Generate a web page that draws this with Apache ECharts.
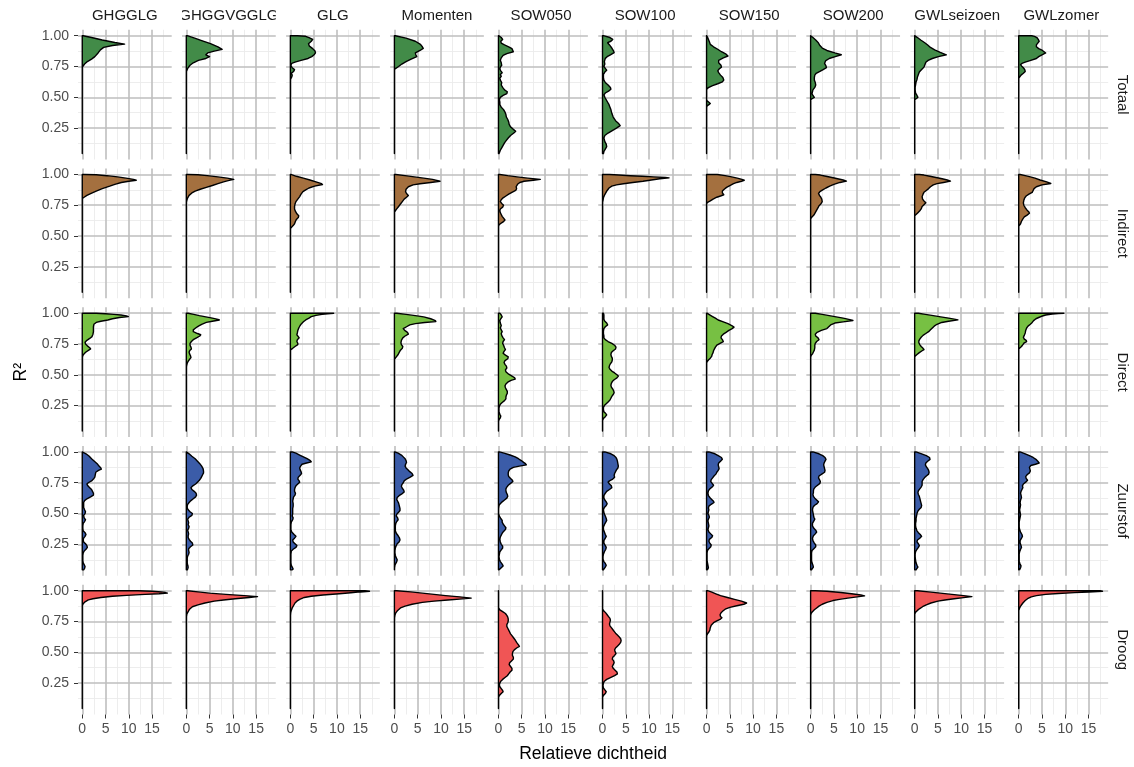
<!DOCTYPE html>
<html><head><meta charset="utf-8">
<script src="https://cdn.jsdelivr.net/npm/echarts@6/dist/echarts.min.js"></script>
<style>html,body{margin:0;padding:0;background:#fff}#c{width:1134px;height:767px}</style>
</head><body><div id="c"></div>
<script>
// ---------- data ----------
const columns = ['GHGGLG','GHGGVGGLG','GLG','Momenten','SOW050','SOW100','SOW150','SOW200','GWLseizoen','GWLzomer'];
const rowLabels = ['Totaal','Indirect','Direct','Zuurstof','Droog'];
const rowColors = ['#428b48','#a4703f','#77c043','#3b5ca8','#f05555'];
const xTicks = [0,5,10,15];
const xMinorTicks = [2.5,7.5,12.5,17.5];
const yTicks = [0.25,0.5,0.75,1.0];
const yMinorTicks = [0.125,0.375,0.625,0.875];
const r2Min = 0.043, r2Max = 1.0, densMax = 18.3;

// density curves, [R², relative density]
const totGHGGLG = [[1.0,0.2],[0.985,2.0],[0.965,4.3],[0.945,7.0],[0.932,9.1],[0.92,6.5],[0.905,4.6],[0.885,3.9],[0.86,3.4],[0.83,2.7],[0.81,2.0],[0.79,1.1],[0.77,0.5],[0.75,0.1],[0.74,0]];
const totGHGGVGGLG = [[1.0,0.2],[0.98,1.8],[0.96,3.3],[0.935,5.2],[0.91,6.8],[0.889,7.7],[0.875,6.0],[0.86,4.6],[0.845,4.2],[0.83,5.0],[0.815,4.2],[0.8,2.6],[0.78,1.5],[0.76,0.8],[0.735,0.3],[0.71,0]];
const totGLG = [[1.0,1.5],[0.995,3.3],[0.985,4.0],[0.97,4.8],[0.955,4.5],[0.935,3.9],[0.915,4.1],[0.895,4.8],[0.875,5.3],[0.86,5.4],[0.845,5.1],[0.83,4.6],[0.815,3.8],[0.8,2.3],[0.785,1.0],[0.775,0.3],[0.76,0.1],[0.74,0.4],[0.725,0.9],[0.71,0.7],[0.695,0.2],[0.68,0.4],[0.665,0.3],[0.645,0]];
const totMomenten = [[1.0,0.2],[0.98,2.5],[0.955,4.5],[0.93,5.6],[0.91,6.0],[0.897,6.2],[0.88,5.5],[0.86,4.5],[0.845,4.6],[0.83,4.8],[0.81,3.6],[0.79,2.5],[0.77,1.6],[0.75,0.9],[0.735,0.3],[0.725,0]];
const totSOW050 = [[1.0,0.1],[0.985,0.6],[0.97,0.9],[0.955,0.5],[0.94,0.6],[0.925,1.3],[0.91,2.2],[0.895,2.9],[0.87,3.2],[0.855,1.8],[0.84,1.0],[0.82,0.6],[0.8,0.4],[0.78,0.6],[0.76,0.7],[0.745,0.4],[0.73,0.3],[0.715,0.5],[0.7,0.8],[0.685,0.4],[0.67,0.6],[0.655,0.3],[0.64,0.4],[0.62,0.7],[0.6,0.6],[0.58,0.9],[0.56,1.3],[0.545,1.9],[0.53,1.8],[0.515,1.0],[0.5,0.4],[0.48,0.2],[0.46,0.3],[0.44,0.3],[0.42,0.6],[0.4,1.1],[0.38,1.4],[0.36,1.6],[0.34,1.7],[0.32,2.0],[0.3,2.2],[0.28,2.3],[0.26,2.6],[0.24,3.2],[0.225,3.7],[0.21,3.3],[0.19,2.6],[0.17,2.1],[0.15,1.7],[0.13,1.3],[0.11,1.0],[0.09,0.7],[0.07,0.4],[0.05,0.2],[0.043,0.1]];
const totSOW100 = [[1.0,0.2],[0.985,1.6],[0.97,2.2],[0.955,1.8],[0.943,1.1],[0.925,1.5],[0.9,2.0],[0.875,2.4],[0.862,2.5],[0.845,1.7],[0.83,1.0],[0.816,0.6],[0.79,0.4],[0.77,0.5],[0.75,0.3],[0.735,0.6],[0.72,0.9],[0.705,0.5],[0.685,0.2],[0.66,0.2],[0.64,0.3],[0.62,0.6],[0.6,1.2],[0.58,1.7],[0.565,1.8],[0.55,1.3],[0.535,0.6],[0.52,0.3],[0.5,0.5],[0.48,0.8],[0.46,1.1],[0.44,1.4],[0.42,1.6],[0.4,1.8],[0.37,2.0],[0.34,2.3],[0.31,2.8],[0.29,3.4],[0.27,3.8],[0.25,3.0],[0.23,2.1],[0.21,1.2],[0.19,0.5],[0.17,0.3],[0.14,0.5],[0.12,0.8],[0.1,0.9],[0.08,0.6],[0.06,0.3],[0.043,0.2]];
const totSOW150 = [[1.0,0],[0.98,0.3],[0.95,0.6],[0.93,0.8],[0.91,1.5],[0.89,2.4],[0.87,3.2],[0.85,4.2],[0.835,4.6],[0.82,3.6],[0.8,2.6],[0.78,2.6],[0.76,3.1],[0.745,3.2],[0.73,2.7],[0.715,2.4],[0.7,2.6],[0.68,3.0],[0.66,3.5],[0.64,3.7],[0.625,3.4],[0.61,2.4],[0.595,1.3],[0.58,0.5],[0.57,0.1],[0.56,0],[0.475,0],[0.46,0.5],[0.45,0.8],[0.44,0.5],[0.43,0.1],[0.42,0]];
const totSOW200 = [[1.0,0],[0.985,0.5],[0.965,1.1],[0.945,1.6],[0.92,2.0],[0.9,2.5],[0.88,3.5],[0.86,5.2],[0.845,6.6],[0.83,5.3],[0.815,4.0],[0.795,3.2],[0.775,3.0],[0.755,3.3],[0.74,3.4],[0.725,2.7],[0.71,2.0],[0.695,1.2],[0.68,0.9],[0.66,0.8],[0.64,0.8],[0.62,1.0],[0.6,1.1],[0.58,0.9],[0.56,0.5],[0.545,0.4],[0.53,0.3],[0.515,0.5],[0.5,0.8],[0.49,0.4],[0.48,0]];
const totGWLseizoen = [[1.0,0],[0.985,0.6],[0.965,1.3],[0.945,2.1],[0.925,2.8],[0.905,3.4],[0.885,4.3],[0.865,5.5],[0.845,6.8],[0.83,5.1],[0.815,3.8],[0.8,2.9],[0.785,2.4],[0.765,2.2],[0.745,2.0],[0.725,1.5],[0.705,1.0],[0.685,0.8],[0.665,0.6],[0.645,0.5],[0.625,0.3],[0.6,0.2],[0.58,0.1],[0.56,0.1],[0.535,0.2],[0.515,0.5],[0.5,0.7],[0.49,0.4],[0.48,0]];
const totGWLzomer = [[1.0,2.8],[0.995,3.4],[0.985,3.9],[0.97,4.2],[0.955,4.4],[0.94,4.1],[0.925,3.8],[0.91,3.8],[0.895,4.3],[0.88,5.1],[0.86,5.8],[0.845,5.0],[0.83,4.3],[0.815,3.8],[0.8,2.6],[0.785,1.4],[0.775,0.7],[0.765,0.4],[0.755,0.6],[0.74,1.0],[0.725,1.3],[0.71,1.4],[0.695,1.0],[0.68,0.5],[0.665,0.2],[0.655,0]];

const indGHGGLG = [[1.0,0.5],[0.997,3.0],[0.99,5.3],[0.98,7.6],[0.97,9.4],[0.96,11.0],[0.953,11.6],[0.945,10.0],[0.935,8.4],[0.92,7.0],[0.905,5.9],[0.885,4.3],[0.865,3.0],[0.845,1.8],[0.83,1.0],[0.815,0.4],[0.805,0]];
const indGHGGVGGLG = [[1.0,0.4],[0.997,2.5],[0.99,4.5],[0.98,6.8],[0.97,8.8],[0.96,10.2],[0.95,9.0],[0.94,8.0],[0.925,6.8],[0.91,5.6],[0.895,4.3],[0.88,3.0],[0.865,1.9],[0.85,1.2],[0.83,0.6],[0.81,0.3],[0.79,0.1],[0.775,0]];
const indGLG = [[1.0,0.1],[0.985,1.3],[0.97,2.8],[0.955,4.2],[0.94,5.5],[0.925,6.7],[0.918,6.9],[0.905,5.2],[0.89,4.0],[0.875,3.3],[0.86,2.7],[0.84,2.3],[0.82,2.0],[0.8,1.6],[0.78,1.2],[0.76,1.0],[0.74,0.9],[0.72,0.9],[0.7,1.1],[0.68,1.4],[0.665,1.8],[0.65,1.7],[0.635,1.3],[0.62,1.1],[0.6,0.9],[0.585,0.6],[0.57,0.2],[0.56,0]];
const indMomenten = [[1.0,0.3],[0.99,2.3],[0.98,4.3],[0.97,6.3],[0.96,8.2],[0.945,9.8],[0.935,7.8],[0.925,5.5],[0.915,4.0],[0.9,3.0],[0.88,2.5],[0.86,2.4],[0.845,2.6],[0.83,3.0],[0.815,2.6],[0.8,2.1],[0.78,1.7],[0.76,1.3],[0.74,0.9],[0.72,0.5],[0.705,0.2],[0.695,0]];
const indSOW050 = [[1.0,0.3],[0.99,2.0],[0.98,4.0],[0.97,6.3],[0.96,9.0],[0.953,7.5],[0.945,5.5],[0.935,4.6],[0.92,4.1],[0.9,3.8],[0.885,3.9],[0.87,3.7],[0.855,2.9],[0.84,2.2],[0.825,1.6],[0.81,1.0],[0.795,0.6],[0.78,0.4],[0.765,0.7],[0.75,1.1],[0.735,0.9],[0.72,0.4],[0.705,0.3],[0.69,0.4],[0.675,0.6],[0.66,0.8],[0.645,1.1],[0.63,1.4],[0.615,1.0],[0.6,0.4],[0.59,0.1],[0.58,0]];
const indSOW100 = [[1.0,1.5],[0.995,3.5],[0.99,6.0],[0.985,8.5],[0.98,11.0],[0.975,13.5],[0.972,14.3],[0.965,12.3],[0.955,10.5],[0.945,8.7],[0.935,6.5],[0.925,4.5],[0.915,3.0],[0.905,2.0],[0.89,1.4],[0.87,1.0],[0.85,0.7],[0.83,0.4],[0.81,0.2],[0.79,0.1],[0.775,0]];
const indSOW150 = [[1.0,2.3],[0.99,4.0],[0.98,5.4],[0.97,6.6],[0.96,7.6],[0.953,8.1],[0.945,7.5],[0.935,6.5],[0.925,5.8],[0.91,5.0],[0.895,4.3],[0.88,3.8],[0.865,3.4],[0.85,3.4],[0.835,3.7],[0.825,3.0],[0.815,2.2],[0.8,1.4],[0.785,0.8],[0.775,0.3],[0.765,0]];
const indSOW200 = [[1.0,1.0],[0.995,2.1],[0.985,3.3],[0.975,4.6],[0.965,5.8],[0.955,7.0],[0.946,7.7],[0.935,6.3],[0.92,5.0],[0.905,4.1],[0.89,3.3],[0.875,2.6],[0.86,2.0],[0.845,1.7],[0.83,1.9],[0.815,2.2],[0.8,2.4],[0.78,2.5],[0.76,2.2],[0.745,1.8],[0.73,1.6],[0.71,1.3],[0.69,1.0],[0.67,0.7],[0.655,0.3],[0.64,0]];
const indGWLseizoen = [[1.0,1.0],[0.995,2.0],[0.985,3.3],[0.975,4.6],[0.965,5.9],[0.955,7.0],[0.946,7.7],[0.935,6.2],[0.925,4.8],[0.915,4.0],[0.9,3.4],[0.885,3.0],[0.87,2.5],[0.855,2.0],[0.84,1.8],[0.82,1.6],[0.8,1.7],[0.785,2.0],[0.77,2.4],[0.755,2.0],[0.74,1.6],[0.72,1.4],[0.705,1.1],[0.69,0.7],[0.675,0.3],[0.665,0]];
const indGWLzomer = [[1.0,0.3],[0.99,1.4],[0.98,2.5],[0.97,3.5],[0.955,4.6],[0.94,6.0],[0.927,6.9],[0.915,5.0],[0.9,3.8],[0.885,3.3],[0.87,3.1],[0.855,2.9],[0.84,2.2],[0.825,1.6],[0.81,1.3],[0.79,1.1],[0.77,1.0],[0.75,1.1],[0.73,1.4],[0.71,1.8],[0.695,2.2],[0.685,2.3],[0.67,1.8],[0.655,1.2],[0.64,0.9],[0.62,0.6],[0.6,0.4],[0.59,0.2],[0.58,0]];

const dirGHGGLG = [[1.0,3.0],[0.995,5.0],[0.99,6.8],[0.985,8.3],[0.978,9.5],[0.972,9.9],[0.965,8.0],[0.955,6.5],[0.945,5.5],[0.935,4.0],[0.925,3.0],[0.91,2.5],[0.89,2.4],[0.87,2.4],[0.85,2.4],[0.83,2.3],[0.81,2.1],[0.795,1.6],[0.78,1.0],[0.765,0.6],[0.75,0.7],[0.735,1.1],[0.72,1.6],[0.71,1.8],[0.7,1.4],[0.685,0.8],[0.67,0.4],[0.655,0.1],[0.645,0]];
const dirGHGGVGGLG = [[1.0,0.4],[0.99,1.6],[0.98,2.8],[0.97,4.2],[0.96,5.6],[0.95,6.8],[0.945,7.1],[0.935,5.6],[0.925,4.3],[0.91,3.3],[0.895,2.6],[0.88,2.0],[0.865,1.5],[0.85,1.5],[0.835,2.4],[0.825,3.1],[0.815,2.9],[0.8,2.2],[0.785,1.5],[0.77,1.1],[0.755,0.8],[0.74,0.8],[0.725,1.0],[0.71,1.1],[0.7,0.8],[0.685,0.6],[0.67,0.7],[0.655,0.9],[0.64,1.0],[0.625,0.7],[0.61,0.4],[0.595,0.2],[0.575,0.05],[0.565,0]];
const dirGLG = [[1.0,9.3],[0.996,8.0],[0.99,6.8],[0.982,5.5],[0.972,4.5],[0.96,4.0],[0.945,3.3],[0.93,2.8],[0.915,2.4],[0.9,2.1],[0.88,1.8],[0.86,1.6],[0.84,1.5],[0.825,1.4],[0.81,1.7],[0.8,1.9],[0.785,1.5],[0.77,1.4],[0.755,1.6],[0.745,1.6],[0.73,1.0],[0.715,0.5],[0.705,0.1],[0.7,0]];
const dirMomenten = [[1.0,0.5],[0.99,2.5],[0.98,4.5],[0.97,6.3],[0.955,7.8],[0.94,8.8],[0.932,8.9],[0.925,6.5],[0.915,4.5],[0.905,3.3],[0.89,2.6],[0.875,1.9],[0.86,2.2],[0.845,2.8],[0.83,3.0],[0.815,2.3],[0.8,1.8],[0.78,1.5],[0.76,1.4],[0.745,1.5],[0.73,1.8],[0.715,1.7],[0.7,1.3],[0.68,1.0],[0.665,0.8],[0.65,0.5],[0.635,0.2],[0.625,0]];
const dirSOW050 = [[1.0,0.3],[0.985,0.6],[0.97,0.8],[0.955,0.5],[0.94,0.3],[0.92,0.4],[0.9,0.6],[0.88,0.4],[0.865,0.6],[0.85,0.8],[0.835,0.6],[0.82,0.7],[0.8,1.0],[0.785,1.3],[0.77,1.0],[0.755,0.9],[0.74,1.1],[0.72,1.3],[0.705,1.5],[0.69,1.2],[0.675,1.0],[0.66,1.5],[0.645,2.1],[0.63,2.0],[0.615,1.4],[0.6,1.2],[0.585,1.4],[0.57,1.7],[0.555,1.8],[0.54,1.5],[0.525,1.6],[0.505,2.2],[0.49,2.9],[0.475,3.5],[0.465,3.6],[0.455,2.7],[0.44,2.0],[0.425,1.6],[0.41,1.4],[0.395,1.5],[0.38,1.7],[0.365,1.9],[0.35,1.9],[0.335,1.7],[0.32,1.6],[0.305,1.6],[0.29,1.3],[0.275,0.8],[0.26,0.4],[0.245,0.2],[0.23,0.1],[0.2,0.1],[0.18,0.3],[0.165,0.5],[0.15,0.4],[0.135,0.1],[0.12,0]];
const dirSOW100 = [[1.0,0.2],[0.985,0.3],[0.97,0.3],[0.95,0.3],[0.935,0.5],[0.92,0.9],[0.905,1.1],[0.89,0.6],[0.875,0.3],[0.855,0.2],[0.835,0.2],[0.815,0.3],[0.8,0.3],[0.785,0.6],[0.77,1.2],[0.755,2.0],[0.74,2.6],[0.725,2.9],[0.71,2.8],[0.695,2.3],[0.68,1.9],[0.665,1.8],[0.65,1.9],[0.635,2.1],[0.62,2.1],[0.605,2.0],[0.59,1.7],[0.575,1.5],[0.56,1.4],[0.545,1.6],[0.53,2.0],[0.515,2.6],[0.5,3.1],[0.49,3.4],[0.475,3.1],[0.46,2.5],[0.445,2.1],[0.43,1.9],[0.415,1.8],[0.4,1.9],[0.385,2.2],[0.37,2.4],[0.355,2.5],[0.34,2.3],[0.325,2.0],[0.31,1.8],[0.295,1.6],[0.28,1.2],[0.265,0.8],[0.25,0.4],[0.235,0.2],[0.22,0.2],[0.2,0.3],[0.185,0.7],[0.175,0.9],[0.16,0.6],[0.145,0.2],[0.13,0]];
const dirSOW150 = [[1.0,0.1],[0.99,0.5],[0.975,1.2],[0.96,1.9],[0.945,2.5],[0.93,3.6],[0.915,4.6],[0.9,5.4],[0.887,5.9],[0.875,5.5],[0.86,4.8],[0.845,4.2],[0.83,3.6],[0.815,3.2],[0.8,3.1],[0.785,3.4],[0.77,3.6],[0.755,2.9],[0.74,2.2],[0.725,1.9],[0.71,1.7],[0.695,1.5],[0.68,1.4],[0.665,1.2],[0.65,1.1],[0.635,0.8],[0.62,0.4],[0.605,0.1],[0.595,0]];
const dirSOW200 = [[1.0,1.0],[0.99,2.5],[0.98,4.0],[0.97,5.5],[0.96,7.0],[0.95,8.2],[0.941,9.1],[0.93,7.0],[0.92,5.2],[0.905,4.3],[0.89,3.9],[0.875,3.5],[0.86,2.3],[0.845,1.4],[0.83,1.0],[0.815,1.1],[0.8,1.6],[0.785,1.8],[0.77,1.3],[0.755,1.0],[0.74,0.9],[0.72,0.9],[0.7,0.8],[0.685,0.6],[0.67,0.4],[0.655,0.1],[0.645,0]];
const dirGWLseizoen = [[1.0,0.8],[0.99,2.3],[0.98,4.0],[0.97,5.6],[0.96,7.3],[0.95,8.8],[0.946,9.3],[0.935,7.3],[0.925,5.8],[0.91,4.8],[0.895,4.2],[0.88,3.8],[0.865,3.4],[0.85,3.0],[0.835,2.4],[0.82,1.8],[0.805,1.4],[0.79,1.1],[0.775,0.9],[0.76,0.9],[0.745,1.1],[0.73,1.4],[0.715,1.8],[0.705,2.0],[0.695,1.6],[0.68,1.0],[0.665,0.5],[0.655,0.2],[0.645,0]];
const dirGWLzomer = [[1.0,9.7],[0.997,8.5],[0.993,7.2],[0.985,5.8],[0.975,4.9],[0.965,4.3],[0.955,3.7],[0.94,3.2],[0.925,2.9],[0.91,2.5],[0.895,2.0],[0.88,1.7],[0.86,1.5],[0.84,1.4],[0.82,1.2],[0.805,1.0],[0.79,1.2],[0.78,1.6],[0.77,1.7],[0.76,1.2],[0.745,0.9],[0.73,0.6],[0.72,0.3],[0.71,0]];

const zuuGHGGLG = [[1.0,0],[0.985,0.8],[0.965,1.5],[0.945,2.0],[0.925,2.6],[0.905,3.2],[0.885,3.6],[0.87,4.0],[0.86,4.1],[0.85,3.5],[0.835,2.9],[0.815,2.8],[0.795,2.7],[0.78,2.4],[0.765,2.0],[0.75,1.3],[0.74,1.0],[0.725,1.2],[0.71,1.6],[0.695,2.0],[0.68,2.2],[0.665,2.4],[0.65,2.4],[0.635,1.8],[0.62,1.0],[0.605,0.5],[0.59,0.3],[0.57,0.3],[0.55,0.3],[0.53,0.5],[0.515,0.7],[0.5,0.6],[0.485,0.3],[0.465,0.4],[0.45,0.7],[0.435,0.5],[0.42,0.2],[0.4,0.1],[0.38,0.1],[0.36,0.2],[0.345,0.6],[0.33,0.8],[0.315,0.6],[0.3,0.3],[0.285,0.2],[0.27,0.3],[0.255,0.7],[0.24,1.0],[0.225,1.1],[0.21,0.8],[0.195,0.4],[0.18,0.2],[0.16,0.1],[0.14,0.1],[0.12,0.1],[0.1,0.2],[0.085,0.4],[0.07,0.6],[0.055,0.5],[0.043,0.3]];
const zuuGHGGVGGLG = [[1.0,0],[0.985,0.6],[0.965,1.2],[0.945,1.9],[0.925,2.4],[0.905,2.9],[0.885,3.3],[0.865,3.6],[0.845,3.7],[0.83,3.7],[0.815,3.5],[0.8,3.3],[0.785,3.1],[0.77,2.8],[0.755,2.4],[0.74,2.0],[0.725,1.4],[0.71,1.0],[0.695,1.2],[0.68,1.7],[0.665,2.1],[0.65,2.2],[0.635,2.0],[0.62,1.5],[0.605,1.0],[0.59,0.6],[0.575,0.3],[0.56,0.2],[0.545,0.2],[0.53,0.4],[0.515,0.8],[0.5,1.3],[0.485,1.2],[0.47,0.6],[0.455,0.3],[0.44,0.4],[0.425,0.5],[0.41,0.4],[0.395,0.6],[0.38,0.5],[0.365,0.3],[0.35,0.4],[0.335,0.5],[0.32,0.4],[0.305,0.4],[0.29,0.6],[0.275,0.9],[0.26,1.3],[0.245,1.4],[0.23,0.9],[0.215,0.5],[0.2,0.5],[0.185,0.6],[0.17,0.5],[0.155,0.3],[0.14,0.2],[0.12,0.2],[0.1,0.2],[0.08,0.3],[0.065,0.4],[0.05,0.3],[0.043,0.2]];
const zuuGLG = [[1.0,0.4],[0.99,1.2],[0.975,2.0],[0.96,2.8],[0.945,3.6],[0.93,4.3],[0.92,4.5],[0.91,3.5],[0.9,2.5],[0.885,2.2],[0.87,2.0],[0.855,2.1],[0.84,2.3],[0.825,2.4],[0.81,2.1],[0.795,1.7],[0.78,1.6],[0.765,1.9],[0.755,2.0],[0.74,1.6],[0.725,1.2],[0.71,1.0],[0.695,0.9],[0.68,0.9],[0.665,1.1],[0.65,1.0],[0.635,0.7],[0.62,0.6],[0.6,0.5],[0.58,0.6],[0.56,0.6],[0.54,0.5],[0.52,0.5],[0.5,0.5],[0.48,0.4],[0.465,0.6],[0.45,0.5],[0.43,0.2],[0.41,0.1],[0.39,0.1],[0.37,0.1],[0.35,0.3],[0.33,0.8],[0.315,1.2],[0.3,0.9],[0.285,0.5],[0.27,0.6],[0.255,1.0],[0.24,1.4],[0.225,1.2],[0.21,0.6],[0.195,0.2],[0.17,0.1],[0.14,0.1],[0.1,0.1],[0.08,0.2],[0.065,0.4],[0.05,0.6],[0.043,0.4]];
const zuuMomenten = [[1.0,0.1],[0.99,0.8],[0.975,1.5],[0.96,1.9],[0.945,2.3],[0.93,2.5],[0.915,2.6],[0.9,2.4],[0.885,2.3],[0.87,2.5],[0.855,2.9],[0.84,3.3],[0.825,3.8],[0.81,4.0],[0.795,3.4],[0.78,2.6],[0.765,2.1],[0.75,1.9],[0.735,1.6],[0.72,1.5],[0.705,1.7],[0.69,2.0],[0.675,2.1],[0.66,1.6],[0.645,1.0],[0.63,0.6],[0.615,0.5],[0.6,0.7],[0.585,0.9],[0.57,1.0],[0.555,1.1],[0.54,1.2],[0.525,1.2],[0.51,0.9],[0.495,0.5],[0.48,0.4],[0.465,0.7],[0.45,0.8],[0.435,0.5],[0.42,0.3],[0.4,0.2],[0.38,0.2],[0.36,0.2],[0.34,0.4],[0.32,0.8],[0.3,1.1],[0.285,1.2],[0.27,1.0],[0.255,0.6],[0.24,0.4],[0.22,0.2],[0.2,0.1],[0.18,0.1],[0.16,0.2],[0.14,0.4],[0.125,0.6],[0.11,0.5],[0.095,0.3],[0.08,0.1],[0.06,0]];
const zuuSOW050 = [[1.0,0.2],[0.99,1.2],[0.975,2.5],[0.96,3.6],[0.945,4.3],[0.93,4.9],[0.915,5.4],[0.905,5.8],[0.895,6.0],[0.885,4.5],[0.875,3.2],[0.86,2.5],[0.845,2.2],[0.83,2.1],[0.815,2.1],[0.8,2.2],[0.785,2.6],[0.77,3.0],[0.76,3.1],[0.745,2.6],[0.73,2.1],[0.715,1.8],[0.7,1.6],[0.685,1.6],[0.67,1.7],[0.655,1.9],[0.64,2.0],[0.625,1.8],[0.61,1.3],[0.595,0.8],[0.58,0.4],[0.565,0.1],[0.54,0],[0.5,0],[0.48,0.2],[0.46,0.5],[0.445,0.8],[0.43,0.8],[0.415,1.0],[0.4,1.3],[0.385,1.6],[0.37,1.5],[0.355,1.1],[0.34,0.8],[0.325,0.6],[0.31,0.4],[0.29,0.3],[0.27,0.4],[0.25,0.6],[0.235,0.9],[0.22,0.9],[0.205,0.6],[0.19,0.3],[0.17,0.2],[0.15,0.1],[0.13,0.2],[0.11,0.4],[0.09,0.8],[0.075,1.0],[0.06,0.6],[0.045,0.2]];
const zuuSOW100 = [[1.0,0.5],[0.985,1.8],[0.97,2.5],[0.955,2.9],[0.94,3.1],[0.925,3.2],[0.905,3.3],[0.885,3.4],[0.87,3.3],[0.855,3.0],[0.84,2.8],[0.825,2.6],[0.81,2.5],[0.795,2.6],[0.78,2.2],[0.765,1.5],[0.755,1.2],[0.74,1.5],[0.725,1.9],[0.71,2.0],[0.695,1.5],[0.68,0.9],[0.665,0.6],[0.645,0.3],[0.625,0.3],[0.61,0.5],[0.595,0.8],[0.58,1.0],[0.565,0.8],[0.55,0.4],[0.53,0.2],[0.51,0.3],[0.495,0.4],[0.48,0.6],[0.46,0.8],[0.445,0.9],[0.43,0.7],[0.41,0.4],[0.39,0.2],[0.37,0.2],[0.35,0.4],[0.33,0.6],[0.315,0.8],[0.3,0.6],[0.28,0.3],[0.26,0.3],[0.24,0.6],[0.225,0.8],[0.21,0.7],[0.19,0.4],[0.17,0.2],[0.15,0.1],[0.13,0.1],[0.11,0.3],[0.095,0.6],[0.08,0.8],[0.065,0.6],[0.05,0.3],[0.043,0.2]];
const zuuSOW150 = [[1.0,0.5],[0.985,1.8],[0.97,2.5],[0.955,3.2],[0.94,3.4],[0.925,3.0],[0.91,2.6],[0.895,2.5],[0.88,2.6],[0.865,2.7],[0.85,2.5],[0.835,2.2],[0.82,2.0],[0.805,1.6],[0.79,1.3],[0.775,1.0],[0.76,0.9],[0.745,1.2],[0.73,1.5],[0.715,1.2],[0.7,0.7],[0.685,0.4],[0.665,0.3],[0.645,0.4],[0.63,0.7],[0.615,1.1],[0.6,1.5],[0.59,1.6],[0.575,1.0],[0.56,0.5],[0.545,0.4],[0.53,0.5],[0.515,0.4],[0.5,0.3],[0.485,0.5],[0.47,0.6],[0.455,0.4],[0.44,0.3],[0.42,0.4],[0.4,0.5],[0.385,0.4],[0.37,0.3],[0.35,0.5],[0.335,0.9],[0.32,1.3],[0.305,1.1],[0.29,0.6],[0.275,0.5],[0.26,0.7],[0.245,1.0],[0.23,0.9],[0.215,0.5],[0.2,0.2],[0.18,0.1],[0.15,0.1],[0.12,0.1],[0.1,0.2],[0.08,0.3],[0.06,0.4],[0.045,0.2]];
const zuuSOW200 = [[1.0,0.5],[0.985,1.8],[0.97,2.6],[0.955,3.1],[0.94,3.3],[0.925,3.1],[0.91,2.9],[0.895,2.8],[0.88,2.9],[0.865,3.0],[0.85,3.1],[0.835,3.0],[0.82,2.4],[0.805,1.8],[0.79,1.7],[0.775,1.9],[0.76,2.1],[0.745,2.0],[0.73,1.5],[0.715,1.0],[0.7,0.7],[0.685,0.6],[0.67,0.6],[0.655,0.5],[0.64,0.6],[0.625,0.9],[0.61,1.3],[0.595,1.7],[0.58,1.4],[0.565,0.8],[0.55,0.5],[0.53,0.4],[0.51,0.5],[0.49,0.6],[0.47,0.7],[0.455,0.9],[0.44,0.7],[0.42,0.4],[0.4,0.4],[0.38,0.7],[0.365,1.1],[0.35,1.3],[0.335,1.0],[0.32,0.6],[0.3,0.4],[0.28,0.5],[0.26,0.8],[0.245,1.1],[0.23,1.1],[0.215,0.7],[0.2,0.3],[0.18,0.2],[0.15,0.2],[0.12,0.2],[0.1,0.3],[0.08,0.5],[0.065,0.6],[0.05,0.3],[0.043,0.2]];
const zuuGWLseizoen = [[1.0,0.3],[0.985,1.5],[0.97,2.5],[0.955,3.2],[0.94,3.3],[0.925,2.8],[0.91,2.4],[0.895,2.3],[0.88,2.5],[0.865,2.8],[0.85,3.0],[0.835,3.1],[0.82,3.0],[0.805,2.5],[0.79,2.1],[0.775,1.8],[0.76,1.6],[0.745,1.6],[0.73,1.6],[0.715,1.4],[0.7,1.1],[0.685,0.8],[0.67,0.7],[0.655,0.8],[0.64,1.0],[0.625,1.1],[0.61,1.2],[0.595,1.3],[0.58,1.4],[0.565,1.5],[0.55,1.4],[0.535,1.0],[0.52,0.7],[0.5,0.5],[0.48,0.4],[0.46,0.3],[0.44,0.3],[0.42,0.2],[0.4,0.2],[0.38,0.3],[0.36,0.5],[0.345,0.8],[0.33,1.2],[0.315,1.5],[0.3,1.1],[0.285,0.6],[0.27,0.5],[0.255,0.8],[0.24,1.0],[0.225,0.8],[0.21,0.5],[0.19,0.2],[0.17,0.1],[0.15,0.1],[0.12,0.2],[0.1,0.3],[0.08,0.5],[0.065,0.7],[0.05,0.4],[0.043,0.3]];
const zuuGWLzomer = [[1.0,0.3],[0.985,1.4],[0.97,2.3],[0.955,3.1],[0.94,3.7],[0.925,4.1],[0.91,4.4],[0.9,3.6],[0.89,2.6],[0.875,2.3],[0.86,2.4],[0.845,2.5],[0.83,2.3],[0.815,1.8],[0.8,1.5],[0.785,1.6],[0.77,1.9],[0.755,1.5],[0.74,1.0],[0.725,0.8],[0.71,0.9],[0.695,0.7],[0.68,0.5],[0.665,0.4],[0.65,0.5],[0.63,0.6],[0.61,0.4],[0.59,0.3],[0.57,0.4],[0.55,0.3],[0.53,0.2],[0.51,0.3],[0.49,0.4],[0.47,0.3],[0.45,0.2],[0.43,0.1],[0.41,0.1],[0.39,0.1],[0.37,0.2],[0.35,0.4],[0.33,0.7],[0.315,0.8],[0.3,0.6],[0.28,0.3],[0.26,0.3],[0.24,0.5],[0.225,0.6],[0.21,0.4],[0.19,0.2],[0.17,0.1],[0.14,0.1],[0.11,0.1],[0.09,0.3],[0.075,0.5],[0.06,0.4],[0.045,0.2]];

const droGHGGLG = [[1.0,12.0],[0.995,15.0],[0.99,17.0],[0.985,17.9],[0.98,18.3],[0.975,16.5],[0.97,13.5],[0.962,9.5],[0.955,6.5],[0.945,4.0],[0.935,2.3],[0.925,1.3],[0.91,0.6],[0.895,0.2],[0.88,0]];
const droGHGGVGGLG = [[1.0,0.3],[0.99,2.5],[0.98,5.0],[0.97,8.5],[0.96,12.5],[0.952,15.3],[0.945,13.5],[0.935,10.5],[0.925,8.0],[0.915,6.0],[0.9,4.0],[0.885,2.5],[0.87,1.3],[0.85,0.7],[0.83,0.4],[0.81,0.1],[0.79,0]];
const droGLG = [[1.0,16.0],[0.995,17.0],[0.99,15.0],[0.983,13.0],[0.975,10.5],[0.965,7.0],[0.955,4.5],[0.945,3.0],[0.93,2.0],[0.915,1.4],[0.9,1.0],[0.88,0.7],[0.86,0.4],[0.84,0.2],[0.82,0.05],[0.8,0]];
const droMomenten = [[1.0,0.5],[0.99,3.5],[0.98,6.0],[0.97,8.5],[0.96,11.0],[0.95,14.0],[0.94,16.5],[0.932,14.0],[0.925,11.5],[0.915,8.5],[0.905,6.0],[0.89,3.8],[0.875,2.3],[0.86,1.3],[0.84,0.7],[0.82,0.3],[0.8,0.1],[0.78,0]];
const droSOW050 = [[1.0,0],[0.86,0],[0.845,0.3],[0.83,0.9],[0.815,1.5],[0.8,1.8],[0.785,2.0],[0.77,2.1],[0.755,2.1],[0.74,2.0],[0.725,1.8],[0.71,1.8],[0.695,2.0],[0.68,2.2],[0.665,2.4],[0.65,2.6],[0.635,2.9],[0.62,3.2],[0.6,3.6],[0.58,3.9],[0.56,4.3],[0.548,4.5],[0.535,3.9],[0.52,3.4],[0.505,3.1],[0.49,3.0],[0.475,3.0],[0.46,3.2],[0.445,3.2],[0.43,2.8],[0.415,2.4],[0.4,2.3],[0.385,2.6],[0.37,2.9],[0.355,2.9],[0.34,2.5],[0.325,2.2],[0.31,1.9],[0.295,1.4],[0.28,0.9],[0.265,0.5],[0.25,0.3],[0.235,0.2],[0.22,0.3],[0.205,0.6],[0.19,0.9],[0.18,1.0],[0.165,0.6],[0.15,0.2],[0.135,0]];
const droSOW100 = [[1.0,0],[0.85,0],[0.835,0.3],[0.82,0.7],[0.805,1.0],[0.79,1.3],[0.775,1.6],[0.76,1.7],[0.745,1.6],[0.73,1.5],[0.715,1.6],[0.7,1.9],[0.685,2.2],[0.67,2.5],[0.655,2.8],[0.64,3.2],[0.625,3.6],[0.61,3.9],[0.595,4.0],[0.58,3.9],[0.565,3.6],[0.55,3.2],[0.535,2.8],[0.52,2.6],[0.505,2.7],[0.49,2.9],[0.475,2.6],[0.46,2.2],[0.445,2.1],[0.43,2.4],[0.415,2.5],[0.4,2.3],[0.385,2.1],[0.37,2.3],[0.355,2.7],[0.34,3.1],[0.325,3.2],[0.31,2.6],[0.295,1.7],[0.28,0.9],[0.265,0.4],[0.25,0.2],[0.23,0.1],[0.21,0.2],[0.195,0.5],[0.18,0.8],[0.165,0.6],[0.15,0.2],[0.135,0]];
const droSOW150 = [[1.0,0.2],[0.99,1.0],[0.975,2.0],[0.96,3.0],[0.945,4.5],[0.93,6.0],[0.915,7.5],[0.9,8.6],[0.89,8.0],[0.878,6.5],[0.865,5.0],[0.85,4.0],[0.835,3.5],[0.82,3.1],[0.805,2.9],[0.79,3.0],[0.78,3.3],[0.77,3.0],[0.755,2.2],[0.74,1.5],[0.72,1.0],[0.7,0.8],[0.68,0.7],[0.665,0.5],[0.65,0.2],[0.635,0]];
const droSOW200 = [[1.0,1.0],[0.995,3.5],[0.985,6.5],[0.975,8.8],[0.965,10.8],[0.958,11.6],[0.95,10.0],[0.94,8.0],[0.93,6.2],[0.92,4.8],[0.905,3.5],[0.89,2.5],[0.875,1.8],[0.86,1.3],[0.845,0.8],[0.83,0.4],[0.815,0.1],[0.8,0]];
const droGWLseizoen = [[1.0,0.6],[0.99,3.0],[0.98,5.5],[0.97,8.0],[0.96,10.5],[0.952,12.3],[0.944,10.5],[0.935,8.5],[0.925,6.5],[0.915,5.0],[0.9,3.5],[0.885,2.5],[0.87,1.7],[0.855,1.1],[0.84,0.6],[0.825,0.2],[0.81,0]];
const droGWLzomer = [[1.0,17.5],[0.996,18.0],[0.99,15.0],[0.984,12.0],[0.977,8.5],[0.97,5.8],[0.96,3.8],[0.95,2.7],[0.935,1.9],[0.92,1.4],[0.9,0.9],[0.88,0.5],[0.86,0.2],[0.84,0]];

const curveTable = [
  [totGHGGLG,totGHGGVGGLG,totGLG,totMomenten,totSOW050,totSOW100,totSOW150,totSOW200,totGWLseizoen,totGWLzomer],
  [indGHGGLG,indGHGGVGGLG,indGLG,indMomenten,indSOW050,indSOW100,indSOW150,indSOW200,indGWLseizoen,indGWLzomer],
  [dirGHGGLG,dirGHGGVGGLG,dirGLG,dirMomenten,dirSOW050,dirSOW100,dirSOW150,dirSOW200,dirGWLseizoen,dirGWLzomer],
  [zuuGHGGLG,zuuGHGGVGGLG,zuuGLG,zuuMomenten,zuuSOW050,zuuSOW100,zuuSOW150,zuuSOW200,zuuGWLseizoen,zuuGWLzomer],
  [droGHGGLG,droGHGGVGGLG,droGLG,droMomenten,droSOW050,droSOW100,droSOW150,droSOW200,droGWLseizoen,droGWLzomer]
];

// ---------- layout ----------
const LEFT0 = 78, COLSTEP = 104.05, PANEL_W = 93.7, TOP0 = 29.8, ROWSTEP = 138.75, PANEL_H = 129.7;
const X_MIN = -0.05 * densMax, X_MAX = 1.05 * densMax;
const Y_MIN = r2Min - 0.05 * (r2Max - r2Min), Y_MAX = r2Max + 0.05 * (r2Max - r2Min);
const MAJOR = '#bebebe', MINOR = '#ebebeb';
const AXIS_TEXT = '#4d4d4d', STRIP_TEXT = '#1a1a1a';
const FONT = 'Liberation Sans, Arial, Helvetica, sans-serif';

const grid = [], xAxis = [], yAxis = [], series = [], graphic = [];

rowLabels.forEach((rl, r) => {
  columns.forEach((cl, c) => {
    const gi = grid.length;
    const lastRow = r === rowLabels.length - 1, firstCol = c === 0;
    grid.push({ left: LEFT0 + c * COLSTEP, top: TOP0 + r * ROWSTEP, width: PANEL_W, height: PANEL_H });
    xAxis.push({ gridIndex: gi, type: 'value', min: X_MIN, max: X_MAX, position: 'bottom', z: 0,
      axisLine: { show: false }, axisTick: { show: false, customValues: xMinorTicks },
      axisLabel: { show: false, customValues: xMinorTicks },
      splitLine: { show: true, lineStyle: { color: MINOR, width: 0.9 } } });
    xAxis.push({ gridIndex: gi, type: 'value', min: X_MIN, max: X_MAX, position: 'bottom', z: 1,
      axisLine: { show: false, onZero: false },
      axisTick: { show: lastRow, customValues: xTicks, length: 4, lineStyle: { color: '#333', width: 1 } },
      axisLabel: { show: lastRow, customValues: xTicks, color: AXIS_TEXT, fontSize: 14, fontFamily: FONT, margin: 8 },
      splitLine: { show: true, lineStyle: { color: MAJOR, width: 1.6 } } });
    yAxis.push({ gridIndex: gi, type: 'value', min: Y_MIN, max: Y_MAX, position: 'left', z: 0,
      axisLine: { show: false }, axisTick: { show: false, customValues: yMinorTicks },
      axisLabel: { show: false, customValues: yMinorTicks },
      splitLine: { show: true, lineStyle: { color: MINOR, width: 0.9 } } });
    yAxis.push({ gridIndex: gi, type: 'value', min: Y_MIN, max: Y_MAX, position: 'left', z: 1,
      axisLine: { show: false, onZero: false },
      axisTick: { show: firstCol, customValues: yTicks, length: 4, lineStyle: { color: '#333', width: 1 } },
      axisLabel: { show: firstCol, customValues: yTicks, color: AXIS_TEXT, fontSize: 14, fontFamily: FONT, margin: 9,
        formatter: v => Number(v).toFixed(2) },
      splitLine: { show: true, lineStyle: { color: MAJOR, width: 1.6 } } });

    const curve = curveTable[r][c];
    const color = rowColors[r];
    series.push({
      type: 'custom', coordinateSystem: 'cartesian2d',
      xAxisIndex: 2 * gi + 1, yAxisIndex: 2 * gi + 1,
      data: [[0, r2Max]], silent: true, z: 3, clip: false,
      renderItem: function (params, api) {
        const asc = curve.slice().sort((a, b) => a[0] - b[0]);
        const pts = [api.coord([0, r2Min])];
        asc.forEach(p => pts.push(api.coord([p[1], Math.max(p[0], r2Min)])));
        pts.push(api.coord([0, r2Max]));
        return { type: 'polygon', shape: { points: pts },
          style: { fill: color, stroke: '#000', lineWidth: 1.4, lineJoin: 'round' } };
      }
    });
  });
});

columns.forEach((cl, c) => {
  graphic.push({ type: 'text', z: 10, x: LEFT0 + c * COLSTEP + PANEL_W / 2, y: 16,
    style: { text: cl, fill: STRIP_TEXT, font: '15px ' + FONT, align: 'center', verticalAlign: 'middle',
      textAlign: 'center', textVerticalAlign: 'middle' } });
});
for (let c = 0; c < columns.length - 1; c++) {
  const x0 = LEFT0 + c * COLSTEP + PANEL_W;
  graphic.push({ type: 'rect', z: 20, shape: { x: x0, y: 0, width: COLSTEP - PANEL_W, height: TOP0 - 1 },
    style: { fill: '#fff' } });
}
graphic.push({ type: 'rect', z: 20, shape: { x: 0, y: 0, width: LEFT0, height: TOP0 - 1 }, style: { fill: '#fff' } });
rowLabels.forEach((rl, r) => {
  graphic.push({ type: 'text', z: 10, x: 1122, y: TOP0 + r * ROWSTEP + PANEL_H / 2, rotation: -Math.PI / 2,
    style: { text: rl, fill: STRIP_TEXT, font: '15px ' + FONT, align: 'center', verticalAlign: 'middle',
      textAlign: 'center', textVerticalAlign: 'middle' } });
});
const panelsLeft = LEFT0, panelsRight = LEFT0 + (columns.length - 1) * COLSTEP + PANEL_W;
const panelsTop = TOP0, panelsBottom = TOP0 + (rowLabels.length - 1) * ROWSTEP + PANEL_H;
graphic.push({ type: 'text', z: 10, x: (panelsLeft + panelsRight) / 2, y: 754,
  style: { text: 'Relatieve dichtheid', fill: '#000', font: '17.5px ' + FONT, align: 'center', verticalAlign: 'middle',
    textAlign: 'center', textVerticalAlign: 'middle' } });
graphic.push({ type: 'text', z: 10, x: 21, y: (panelsTop + panelsBottom) / 2, rotation: Math.PI / 2,
  style: { text: 'R²', fill: '#000', font: '17.5px ' + FONT, align: 'center', verticalAlign: 'middle',
    textAlign: 'center', textVerticalAlign: 'middle' } });

const chart = echarts.init(document.getElementById('c'), null, { renderer: 'canvas' });
chart.setOption({ animation: false, backgroundColor: '#fff', grid, xAxis, yAxis, series, graphic });
</script></body></html>
